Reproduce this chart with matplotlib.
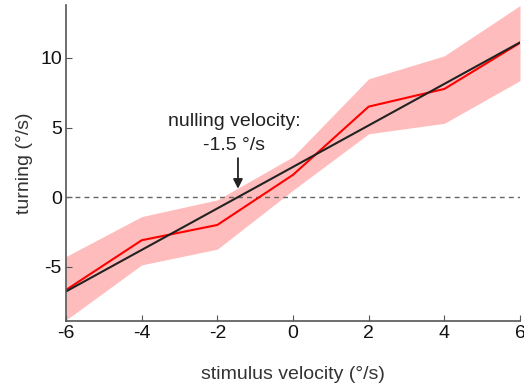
import numpy as np
import matplotlib
matplotlib.use("Agg")
import matplotlib.pyplot as plt

plt.rcParams['font.family'] = ['Liberation Sans', 'DejaVu Sans']
plt.rcParams['axes.unicode_minus'] = False

velocity = [-6, -4, -2, 0, 2, 4, 6]
turning = [-6.67, -3.1, -2.0, 1.6, 6.5, 7.77, 11.08]
upper = [-4.27, -1.4, -0.2, 2.9, 8.5, 10.15, 13.76]
lower = [-8.83, -4.87, -3.74, 0.5, 4.55, 5.3, 8.37]
xticks = [-6, -4, -2, 0, 2, 4, 6]
yticks = [-5, 0, 5, 10]


def main():
    fig = plt.figure(figsize=(5.24, 3.89), dpi=100)
    ax = fig.add_axes([66 / 524, 1 - 321 / 389, 454 / 524, 316 / 389])

    ax.fill_between(velocity, lower, upper, color='#ffbcbc', lw=0)
    ax.axhline(0, color='#666666', lw=1, ls=(0, (3.5, 3)))
    ax.plot(velocity, turning, color='#ff0000', lw=1.5)

    # linear fit and nulling velocity
    slope, icpt = np.polyfit(velocity, turning, 1)
    fx = np.array([velocity[0], velocity[-1]])
    ax.plot(fx, slope * fx + icpt, color='#222222', lw=1.5)
    null_v = -icpt / slope

    ax.annotate('', xy=(null_v, 0.6), xytext=(null_v, 2.8),
                arrowprops=dict(arrowstyle='-|>', color='#222222', lw=1.3,
                                mutation_scale=14, shrinkA=0, shrinkB=0))
    ax.text(null_v - 0.1, 3.35, 'nulling velocity:\n-1.5 \u00b0/s', ha='center',
            va='baseline', fontsize=14, color='#222222', linespacing=1.6)

    ax.set_xlim(-6, 6)
    ax.set_ylim(-8.9, 13.8)
    ax.set_xticks(xticks)
    ax.set_yticks(yticks)
    ax.tick_params(direction='in', length=4, color='#555555', labelsize=14,
                   labelcolor='#111111', pad=3)
    for s in ['top', 'right']:
        ax.spines[s].set_visible(False)
    for s in ['left', 'bottom']:
        ax.spines[s].set_color('#555555')
        ax.spines[s].set_linewidth(1.2)

    ax.set_xlabel('stimulus velocity (\u00b0/s)', fontsize=14, color='#333333', labelpad=17)
    ax.set_ylabel('turning (\u00b0/s)', fontsize=14, color='#333333', labelpad=5)

    fig.savefig('out.png', dpi=100)


if __name__ == "__main__":
    main()
